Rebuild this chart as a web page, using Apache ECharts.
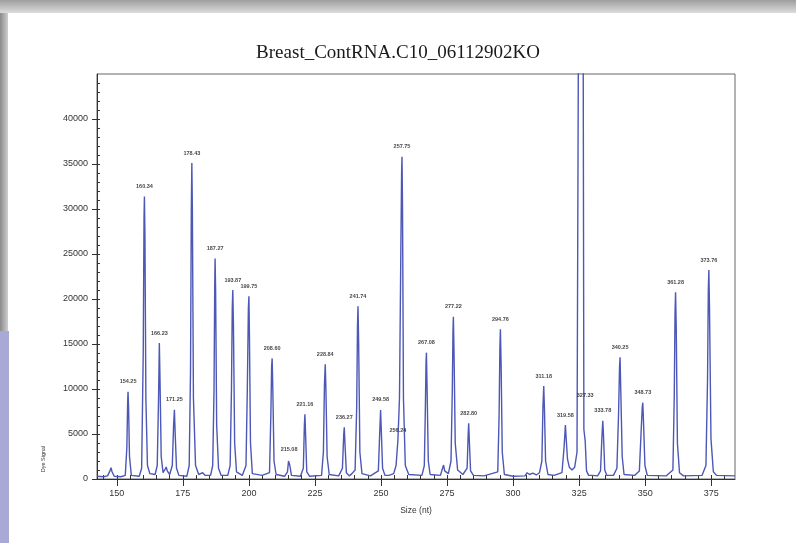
<!DOCTYPE html>
<html>
<head>
<meta charset="utf-8">
<script src="https://cdn.jsdelivr.net/npm/echarts@6/dist/echarts.min.js"></script>
<style>
html,body{margin:0;padding:0;background:#fff;}
#chart{width:796px;height:543px;}
</style>
</head>
<body>
<div id="chart"></div>
<script>
// ---- data ----
const titleText = 'Breast_ContRNA.C10_06112902KO';
const xTicks = [150, 175, 200, 225, 250, 275, 300, 325, 350, 375];
const yTicks = [0, 5000, 10000, 15000, 20000, 25000, 30000, 35000, 40000];

// electropherogram trace: [size (nt), dye signal]
const trace = [
  [142.5,300],[145.0,250],[146.5,350],[147.4,900],[147.8,1250],[148.2,800],[149.0,300],
  [151.5,250],[153.2,400],[153.8,3500],[154.1,8500],[154.25,9700],[154.45,8000],[154.8,2500],[155.5,400],
  [158.5,300],[159.4,1200],[160.0,14000],[160.3,29000],[160.45,31400],[160.65,27000],[161.0,9000],[161.6,1500],[162.5,600],
  [164.5,500],[165.3,1500],[165.8,9000],[166.1,15100],[166.35,11000],[166.8,2500],[167.5,700],
  [168.3,1100],[168.7,1330],[169.1,900],[170.0,500],
  [171.0,1500],[171.5,6000],[171.8,7700],[172.1,5000],[172.6,1200],[173.5,400],
  [176.5,300],[177.4,1500],[177.9,12000],[178.2,30000],[178.4,35100],[178.6,30000],[179.0,9000],[179.8,1500],[181.0,500],[182.5,700],[183.5,400],
  [185.5,400],[186.3,1500],[186.8,10000],[187.05,21000],[187.2,24500],[187.4,21000],[187.8,6000],[188.5,1200],[189.5,400],
  [192.0,400],[192.9,1500],[193.4,10000],[193.7,19000],[193.9,21000],[194.15,17000],[194.6,4000],[195.3,800],
  [197.5,400],[198.9,1500],[199.4,10000],[199.8,19000],[200.0,20300],[200.2,16000],[200.6,4000],[201.3,600],
  [205.0,400],[207.8,700],[208.3,7000],[208.6,12500],[208.8,13400],[209.05,10000],[209.5,2000],[210.3,500],
  [213.5,300],[214.6,800],[215.0,2000],[215.2,2190],[215.5,1500],[216.1,400],
  [219.5,300],[220.6,1200],[221.0,6000],[221.2,7200],[221.45,5000],[221.9,800],[223.0,300],
  [227.5,400],[228.2,3000],[228.6,10500],[228.9,12740],[229.15,10000],[229.6,2500],[230.4,500],
  [234.0,350],[235.4,1200],[235.9,5000],[236.1,5740],[236.35,4000],[236.9,700],[238.0,350],
  [239.0,600],[240.2,1000],[240.8,8000],[241.1,17000],[241.3,19200],[241.55,15000],[242.0,3000],[242.8,600],
  [246.0,350],[249.0,900],[249.5,5000],[249.85,7670],[250.1,5500],[250.6,1200],[251.5,400],
  [253.0,400],[254.8,600],[255.7,1500],[256.4,4300],[257.0,9000],[257.5,25000],[257.8,34000],[257.95,35800],[258.15,30000],[258.5,9000],[259.2,1500],[260.5,500],
  [265.5,400],[266.4,1500],[266.8,8000],[267.05,13000],[267.2,14040],[267.45,10000],[267.9,2000],[268.6,500],
  [272.5,400],[273.3,1200],[273.7,1550],[274.1,900],[275.5,600],
  [276.5,2000],[277.0,10000],[277.25,16500],[277.4,18030],[277.65,14000],[278.1,4000],[279.0,1000],
  [281.0,500],[282.6,1200],[283.0,5000],[283.2,6190],[283.45,4200],[283.9,900],[285.0,400],
  [289.0,350],[294.2,800],[294.7,7000],[295.0,14500],[295.2,16630],[295.45,13000],[295.9,3000],[296.7,500],
  [300.0,300],[304.5,350],[305.3,700],[306.2,500],[307.5,650],[308.8,450],
  [310.0,700],[310.9,2000],[311.3,8000],[311.6,10330],[311.85,8000],[312.3,2000],[313.2,500],
  [315.5,400],[318.5,700],[319.3,3500],[319.8,6000],[320.1,4500],[320.6,2200],[321.3,1300],[322.3,1000],[323.3,1300],
  [324.2,3000],[325.9,150000],[326.8,5500],[327.3,4200],[327.8,900],[328.6,400],
  [330.0,400],[332.0,350],[333.1,900],[333.6,4500],[333.95,6480],[334.2,5000],[334.7,1000],[335.5,400],
  [338.0,400],[339.3,1200],[339.9,7000],[340.3,12500],[340.5,13520],[340.75,10000],[341.3,2500],[342.0,500],
  [346.0,400],[347.8,900],[348.5,5500],[348.9,8000],[349.1,8480],[349.35,6500],[349.9,1500],[350.8,400],
  [358.0,350],[360.5,1000],[361.0,9000],[361.3,18500],[361.5,20740],[361.75,17000],[362.2,4000],[363.0,700],
  [364.5,350],[371.5,400],[373.0,1500],[373.6,11000],[373.9,21000],[374.1,23220],[374.35,19000],[374.9,4500],[375.8,800],
  [377.0,400],[384.0,350]
];

// peak calls (label anchors)
const peakSizes   = [154.25,160.45,166.1,171.8,178.4,187.2,193.9,200.0,208.8,215.2,221.2,228.9,236.1,241.3,249.85,256.4,257.95,267.2,277.4,283.2,295.2,311.6,319.8,327.3,333.95,340.5,349.1,361.5,374.1];
const peakHeights = [9700,31400,15100,7700,35100,24500,21000,20300,13400,2190,7200,12740,5740,19200,7670,4300,35800,14040,18030,6190,16630,10330,6000,8200,6480,13520,8480,20740,23220];
const peakLabels  = ['154.25','160.34','166.23','171.25','178.43','187.27','193.87','199.75','208.60','215.08','221.16','228.84','236.27','241.74','249.58','256.24','257.75','267.08','277.22','282.80','294.76','311.18','319.58','327.33','333.78','340.25','348.73','361.28','373.76'];

// ---- chart ----
const xMinor = [];
for (let v = 145; v <= 380; v += 5) xMinor.push(v);
const yMinor = [];
for (let v = 0; v <= 44000; v += 1000) yMinor.push(v);

const chart = echarts.init(document.getElementById('chart'), null, {renderer: 'canvas'});
const axisColor = '#333';
const sans = 'Liberation Sans, Arial, sans-serif';

chart.setOption({
  animation: false,
  backgroundColor: '#ffffff',
  title: {
    text: titleText,
    left: 'center',
    top: 39,
    textStyle: {fontFamily: 'Liberation Serif, Times New Roman, serif', fontSize: 19, fontWeight: 'normal', color: '#1a1a1a'}
  },
  graphic: [
    {type: 'rect', left: 0, top: 0, shape: {width: 796, height: 13},
      style: {fill: new echarts.graphic.LinearGradient(0, 0, 0, 1, [{offset: 0, color: '#9e9e9e'}, {offset: 1, color: '#dcdcdc'}])}},
    {type: 'rect', left: 0, top: 13, shape: {width: 8, height: 318},
      style: {fill: new echarts.graphic.LinearGradient(0, 0, 1, 0, [{offset: 0, color: '#8a8a8a'}, {offset: 1, color: '#cfcfcf'}])}},
    {type: 'rect', left: 0, top: 331, shape: {width: 9, height: 212}, style: {fill: '#a9a9d6'}},
    {type: 'text', x: 43, y: 459, rotation: Math.PI / 2,
      style: {text: 'Dye Signal', fontSize: 5.5, fontFamily: sans, fill: '#333', textAlign: 'center', textVerticalAlign: 'middle'}}
  ],
  grid: {left: 97, right: 61, top: 74, bottom: 64, show: true, borderColor: '#666', borderWidth: 1},
  xAxis: [
    {
      type: 'value', min: 142.5, max: 384, position: 'bottom',
      name: 'Size (nt)', nameLocation: 'middle', nameGap: 27,
      nameTextStyle: {fontSize: 8.5, fontFamily: sans, color: '#333'},
      axisLine: {show: true, onZero: false, lineStyle: {color: axisColor, width: 1}},
      axisTick: {show: true, customValues: xTicks, length: 7, lineStyle: {color: axisColor}},
      axisLabel: {customValues: xTicks, fontSize: 9, fontFamily: sans, color: '#333', margin: 10, formatter: v => String(v)},
      splitLine: {show: false}
    },
    {
      type: 'value', min: 142.5, max: 384, position: 'bottom',
      axisLine: {show: false, onZero: false},
      axisTick: {show: true, inside: true, customValues: xMinor, length: 4, lineStyle: {color: axisColor}},
      axisLabel: {show: false},
      splitLine: {show: false}
    }
  ],
  yAxis: [
    {
      type: 'value', min: 0, max: 45000, position: 'left',
      axisLine: {show: true, onZero: false, lineStyle: {color: axisColor, width: 1}},
      axisTick: {show: true, customValues: yTicks, length: 5, lineStyle: {color: axisColor}},
      axisLabel: {customValues: yTicks, fontSize: 9, fontFamily: sans, color: '#333', margin: 9, formatter: v => String(v)},
      splitLine: {show: false}
    },
    {
      type: 'value', min: 0, max: 45000, position: 'left', offset: 0,
      axisLine: {show: false, onZero: false},
      axisTick: {show: true, inside: true, customValues: yMinor, length: 3, lineStyle: {color: axisColor}},
      axisLabel: {show: false},
      splitLine: {show: false}
    }
  ],
  series: [
    {
      type: 'line', xAxisIndex: 0, yAxisIndex: 0,
      data: trace, symbol: 'none', clip: true,
      lineStyle: {color: '#4c57b6', width: 1.4},
      z: 3
    },
    {
      type: 'scatter', xAxisIndex: 0, yAxisIndex: 0,
      data: peakSizes.map((s, i) => [s, peakHeights[i]]),
      symbolSize: 0, silent: true,
      label: {
        show: true, position: 'top', distance: 7,
        formatter: p => peakLabels[p.dataIndex],
        fontSize: 5.5, fontWeight: 'bold', fontFamily: sans, color: '#111'
      },
      z: 4
    }
  ]
});
</script>
</body>
</html>
